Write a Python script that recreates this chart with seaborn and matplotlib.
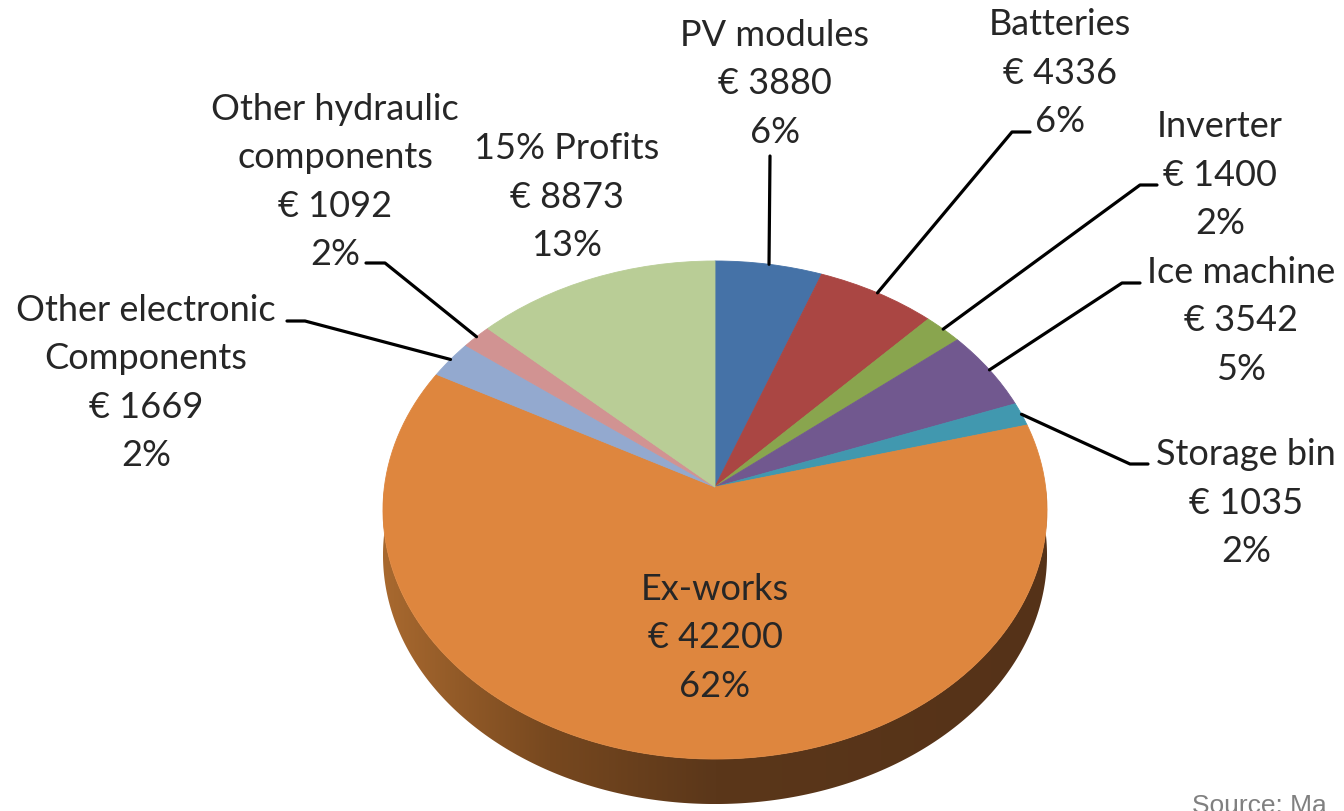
"""
Cost breakdown of the solar ice-maker container, drawn as a tilted 3D-style pie.
"""

import numpy as np
import matplotlib
matplotlib.use("Agg")
import matplotlib.pyplot as plt
import seaborn as sns
from matplotlib.transforms import Transform, Affine2D
from matplotlib.path import Path
from matplotlib.patches import Polygon
from matplotlib.colors import LinearSegmentedColormap

# --- data -------------------------------------------------------------------
names = ["PV modules", "Batteries", "Inverter", "Ice machine", "Storage bin",
         "Ex-works", "Other electronic\nComponents", "Other hydraulic\ncomponents",
         "15% Profits"]
costs = [3880, 4336, 1400, 3542, 1035, 42200, 1669, 1092, 8873]
colors = ["#4572A7", "#AA4643", "#89A54E", "#71588F", "#4198AF",
          "#DE863E", "#93A9CF", "#D19392", "#B9CD96"]

# --- layout (pixels) --------------------------------------------------------
label_pos = [(775, 36), (1060, 25), (1220, 127), (1241, 273), (1246, 455),
             (715, 590), (146, 311), (335, 110), (567, 149)]
leaders = [[(770, 157)], [(1030, 133), (1012, 133)], [(1157, 186), (1140, 186)],
           [(1140, 284), (1122, 284)], [(1148, 465), (1130, 465)], None,
           [(287, 322), (305, 322)], [(366, 264), (385, 264)], None]
LINE = 48

# perspective of the tilted disc
CX, CY = 715, 488
RX, RY, K = 330.6, 246.9, 0.0924
DEPTH = 45


def project(uv):
    uv = np.asarray(uv, float)
    s = 1.0 / (1.0 + K * uv[:, 1])
    return np.column_stack([CX + RX * uv[:, 0] * s, CY - RY * uv[:, 1] * s])


class Tilt(Transform):
    input_dims = output_dims = 2
    is_separable = False
    has_inverse = False

    def transform_non_affine(self, values):
        return project(values)

    def transform_path_non_affine(self, path):
        polys = path.to_polygons(Affine2D().scale(500), closed_only=True)
        verts = np.concatenate(polys) / 500.0
        return Path(project(verts), closed=True)


sns.set_style("white")
plt.rcParams['font.family'] = ['Lato', 'DejaVu Sans']

fig = plt.figure(figsize=(13.44, 8.12), dpi=100)
ax = fig.add_axes([0, 0, 1, 1])

# side of the cylinder (only the front half shows)
th = np.linspace(0, -np.pi, 240)
front = project(np.column_stack([np.cos(th), np.sin(th)]))
bottom = front[::-1] + [0, DEPTH]
side = np.vstack([front, bottom])
side_patch = Polygon(side, closed=True, facecolor='none', edgecolor='none',
                     transform=ax.transData)
ax.add_patch(side_patch)
side_cmap = LinearSegmentedColormap.from_list(
    "side", [(0, "#A8692F"), (0.25, "#77481F"), (0.5, "#5B371A"), (1, "#553218")])
im = ax.imshow(np.linspace(0, 1, 256)[None, :], cmap=side_cmap, aspect='auto',
               extent=(side[:, 0].min(), side[:, 0].max(), side[:, 1].max(), side[:, 1].min()),
               zorder=0.5)
im.set_clip_path(side_patch)

# top face
wedges, _ = ax.pie(costs, colors=colors, startangle=90, counterclock=False,
                   wedgeprops=dict(linewidth=0.6))
tilt = Tilt() + ax.transData
for w in wedges:
    w.set_edgecolor(w.get_facecolor())
    w.set_transform(tilt)

# leader lines
total = sum(costs)
for w, elbow in zip(wedges, leaders):
    if elbow is None:
        continue
    mid = np.deg2rad((w.theta1 + w.theta2) / 2)
    anchor = project(np.array([[np.cos(mid), np.sin(mid)]]))[0]
    pts = np.array(elbow + [tuple(anchor)])
    ax.plot(pts[:, 0], pts[:, 1], color='black', lw=2.3, zorder=3)

# data labels
for name, cost, (x, y0) in zip(names, costs, label_pos):
    txt = f"{name}\n€ {cost}\n{round(cost / total * 100)}%"
    n = txt.count("\n")
    ax.text(x, y0 + n * LINE / 2, txt, ha='center', va='center',
            multialignment='center', fontsize=26, linespacing=1.56, zorder=4)

ax.text(1192, 794, "Source: Ma", ha='left', va='top', fontsize=19,
        color='#808080', family=['Liberation Sans', 'DejaVu Sans'])

ax.set_xlim(0, 1344)
ax.set_ylim(812, 0)
ax.set_aspect('auto')
ax.axis('off')

fig.savefig("out.png", dpi=100)
print("saved out.png")
